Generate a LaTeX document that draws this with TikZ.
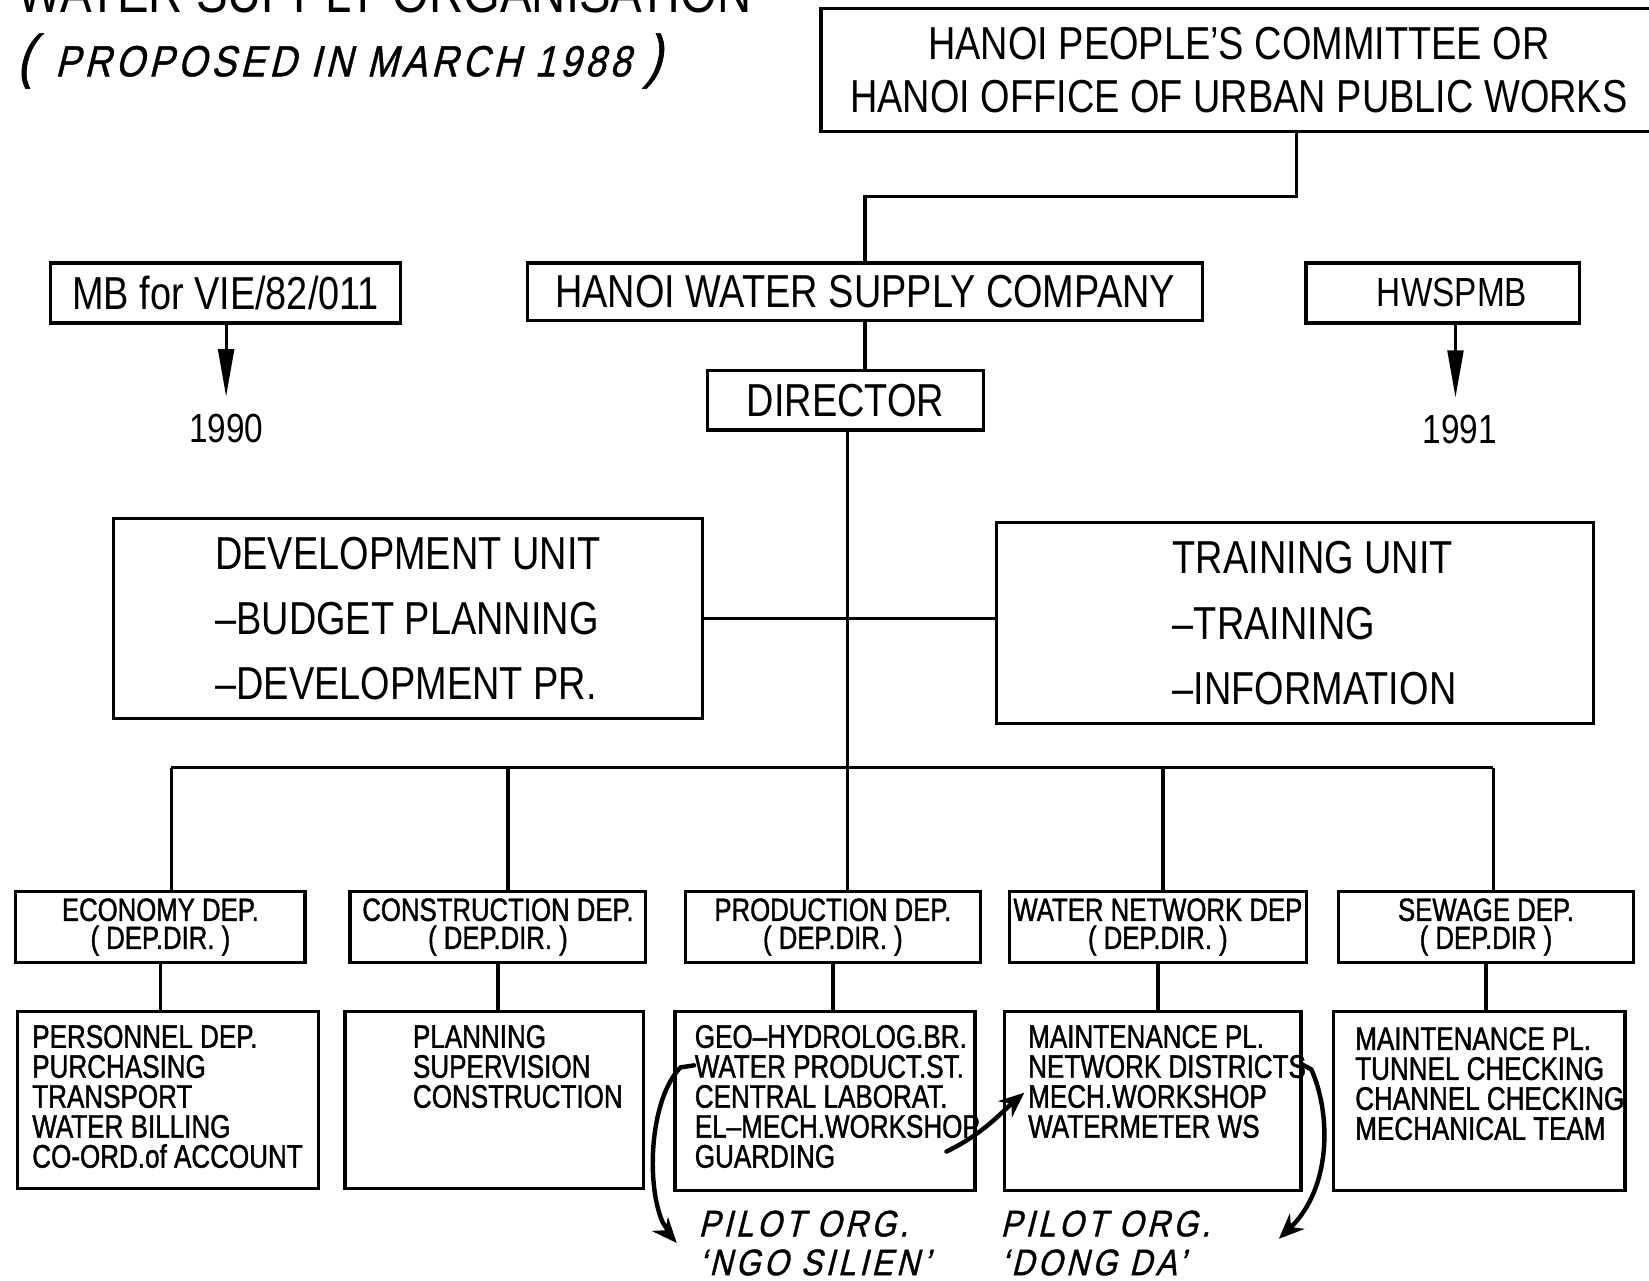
\documentclass[tikz,border=0pt]{standalone}
\usepackage{fontspec}
\setmainfont{Liberation Sans}[FakeStretch=0.82]
\newfontfamily\plotfont{Liberation Sans}[Ligatures=TeX,FakeStretch=0.80,FakeBold=1.2]
\newfontfamily\handfont{Liberation Sans}[Ligatures=TeX,FakeSlant=0.25,FakeStretch=0.85,FakeBold=1,LetterSpace=10]
\usetikzlibrary{arrows.meta}
\usetikzlibrary{positioning}

\begin{document}
\begin{tikzpicture}[x=0.01cm,y=-0.01cm]
  \tikzset{
    unit/.style={draw,line width=0.9pt,inner sep=0pt,align=center,font=\fontsize{12.5}{15}\selectfont},
    dep/.style={draw,line width=0.9pt,inner sep=0pt,minimum height=0.67cm,align=center,font=\plotfont\fontsize{8.7}{7.6}\selectfont},
    sub/.style={draw,line width=0.9pt,minimum height=1.68cm},
    duty/.style={anchor=north west,inner sep=0pt,align=left,font=\plotfont\fontsize{8.8}{8.1}\selectfont},
    year/.style={inner sep=1pt,font=\fontsize{11}{13}\selectfont},
    hand/.style={inner sep=0pt,align=left,font=\handfont\fontsize{10}{10.5}\selectfont},
    link/.style={line width=0.9pt},
    handarrow/.style={line width=1.2pt,line cap=round,-{Stealth[length=2.4mm,width=2mm]}},
    yeararrow/.style={line width=0.8pt,shorten >=0.12cm,-{Triangle[length=4.5mm,width=1.5mm]}},
  }
  \useasboundingbox[fill=white] (0,0) rectangle (1568,1218);
  \node[anchor=base west,inner sep=0pt,font=\fontsize{15.6}{18}\selectfont] (title) at (16,12) {WATER SUPPLY ORGANISATION};
  \node[anchor=west,inner sep=0pt,font=\handfont\fontsize{11.8}{14}\selectfont] (when) at (15,58)
    {{\fontsize{16}{16}\selectfont(}\,\,\,PROPOSED IN MARCH 1988\,\,{\fontsize{16}{16}\selectfont)}};

  % top of the chart
  \node[unit,minimum width=7.94cm,minimum height=1.17cm,font=\fontsize{12.5}{14.5}\selectfont] (city) at (1178,66.5)
    {HANOI PEOPLE'S COMMITTEE OR\\HANOI OFFICE OF URBAN PUBLIC WORKS};
  \node[unit,minimum width=6.41cm,minimum height=0.55cm] (hwsc) at (822.5,277.5) {HANOI WATER SUPPLY COMPANY};
  \node[unit,minimum width=3.33cm,minimum height=0.57cm] (mb) at (214.5,278.5) {MB for VIE/82/011};
  \node[unit,minimum width=2.60cm,minimum height=0.57cm,font=\fontsize{11}{13}\selectfont,text width=1.6cm,align=right] (pmb) at (1372,278.5) {HWSPMB};
  \node[unit,minimum width=2.62cm,minimum height=0.57cm] (dir) at (804,380.5) {DIRECTOR};
  \node[year] (y90) at (215,407) {1990};
  \node[year] (y91) at (1388,408) {1991};

  \node[unit,minimum width=5.60cm,minimum height=1.90cm,font=\fontsize{12.5}{17.6}\selectfont,align=left] (dev) at (388,588)
    {DEVELOPMENT UNIT\\--BUDGET PLANNING\\--DEVELOPMENT PR.};
  \node[unit,minimum width=5.67cm,minimum height=1.91cm] (train) at (1231.5,592.5) {};
  \node[inner sep=0pt,align=left,font=\fontsize{12.5}{17.6}\selectfont] (traintext) at (1250,592.5)
    {TRAINING UNIT\\--TRAINING\\--INFORMATION};

  % departments
  \node[dep,minimum width=2.75cm] (eco) at (152.5,881.5) {ECONOMY DEP.\\( DEP.DIR. )};
  \node[dep,minimum width=2.81cm] (con) at (473.5,881.5) {CONSTRUCTION DEP.\\( DEP.DIR. )};
  \node[dep,minimum width=2.80cm] (pro) at (792,881.5) {PRODUCTION DEP.\\( DEP.DIR. )};
  \node[dep,minimum width=2.82cm] (net) at (1101,881.5) {WATER NETWORK DEP\\( DEP.DIR. )};
  \node[dep,minimum width=2.80cm] (sew) at (1413,881.5) {SEWAGE DEP.\\( DEP.DIR )};

  \node[sub,minimum width=2.86cm] (ecosub) at (160,1046) {};
  \node[sub,minimum width=2.84cm] (consub) at (470,1046) {};
  \node[sub,minimum width=2.85cm,minimum height=1.70cm] (prosub) at (784.5,1047) {};
  \node[sub,minimum width=2.82cm,minimum height=1.70cm] (netsub) at (1096,1047) {};
  \node[sub,minimum width=2.77cm,minimum height=1.70cm] (sewsub) at (1406.5,1047) {};

  \node[duty] (ecolist) at (30,974) {PERSONNEL DEP.\\PURCHASING\\TRANSPORT\\WATER BILLING\\CO-ORD.of ACCOUNT};
  \node[duty] (conlist) at (392,974) {PLANNING\\SUPERVISION\\CONSTRUCTION};
  \node[duty] (prolist) at (660,974) {GEO--HYDROLOG.BR.\\WATER PRODUCT.ST.\\CENTRAL LABORAT.\\EL--MECH.WORKSHOP\\GUARDING};
  \node[duty] (netlist) at (977,974) {MAINTENANCE PL.\\NETWORK DISTRICTS\\MECH.WORKSHOP\\WATERMETER WS};
  \node[duty] (sewlist) at (1288,976) {MAINTENANCE PL.\\TUNNEL CHECKING\\CHANNEL CHECKING\\MECHANICAL TEAM};

  % connectors
  \draw[link] ([xshift=0.55cm]city.south) -- ++(0,60) -| (hwsc.north);
  \draw[link] (hwsc.south) -- (hwsc.south |- dir.north);
  \draw[yeararrow] (y90 |- mb.south) -- (y90.north);
  \draw[yeararrow] ([xshift=-0.04cm]y91.north |- pmb.south) -- ([xshift=-0.04cm]y91.north);
  \draw[link] (dev.east) -- (dev.east -| train.west);
  \foreach \n/\dx in {eco/163,con/483,pro/806,net/1106,sew/1420}{
    \coordinate (\n top) at (\dx,730);
    \draw[link] (\n top) -- (\n top |- \n.north);
    \draw[link] (\n.south) -- (\n.south |- \n sub.north);
  }
  \draw[link] (ecotop) -- (sewtop);
  \draw[link] (dir.south -| protop) -- (protop);

  % pencil notes
  \node[hand] (pilotA) at (774,1182) {PILOT ORG.\\‘NGO SILIEN’};
  \node[hand] (pilotB) at (1051,1182) {PILOT ORG.\\‘DONG DA’};
  \coordinate (prostart) at (660,1013);
  \coordinate (guardend) at (900,1095);
  \coordinate (mechws) at (974,1039);
  \coordinate (netstart) at (1238,1012);
  \draw[handarrow] (prostart) -- (647,1015) .. controls (618,1045) and (614,1125) .. (630,1162)
    .. controls (640,1178) .. ([xshift=-0.2cm]pilotA.west);
  \draw[handarrow] (guardend) .. controls (935,1078) and (952,1058) .. (mechws);
  \draw[handarrow] (netstart) -- (1247,1017) .. controls (1266,1060) and (1266,1130) .. (1216,1178);
\end{tikzpicture}
\end{document}
